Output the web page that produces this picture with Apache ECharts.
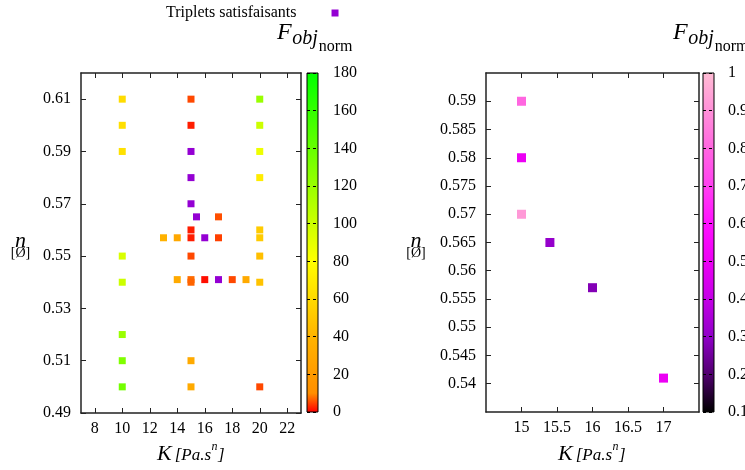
<!DOCTYPE html>
<html><head><meta charset="utf-8">
<script src="https://cdn.jsdelivr.net/npm/echarts@6/dist/echarts.min.js"></script>
<style>html,body{margin:0;padding:0;background:#fff}#c{width:745px;height:470px}</style>
</head><body><div id="c"></div>
<script>
// ---- data: left panel, all tested triplets (K, n, Fobj_norm) ----
const kLeft = [10, 15, 20, 10, 15, 20, 10, 20, 20, 17, 15, 20, 13, 14, 15, 17, 20, 10, 15, 20, 10, 14, 15, 15, 16, 18, 19, 20, 10, 10, 15, 10, 15, 20];
const nLeft = [0.61, 0.61, 0.61, 0.60, 0.60, 0.60, 0.59, 0.59, 0.58, 0.565, 0.56, 0.56, 0.557, 0.557, 0.557, 0.557, 0.557, 0.55, 0.55, 0.55, 0.54, 0.541, 0.541, 0.54, 0.541, 0.541, 0.541, 0.54, 0.52, 0.51, 0.51, 0.50, 0.50, 0.50];
const fLeft = [61, 5, 120, 63, 2, 100, 64, 87, 70, 5.5, 2, 52, 38, 30, 2, 4.5, 52, 95, 5, 46, 100, 32, 7.5, 7, 1, 5, 32, 48, 120, 130, 32, 135, 32, 5];
// ---- data: satisfying triplets (K, n, Fobj_norm) ----
const kSat = [15, 15, 15, 15.4, 16, 17];
const nSat = [0.59, 0.58, 0.57, 0.565, 0.557, 0.541];
const fSat = [0.8, 0.5, 0.92, 0.31, 0.28, 0.5];
// ---- tick labels ----
const leftXTicks = [8, 10, 12, 14, 16, 18, 20, 22];
const leftYTicks = [0.49, 0.51, 0.53, 0.55, 0.57, 0.59, 0.61];
const rightXTicks = [15, 15.5, 16, 16.5, 17];
const rightYTicks = [0.54, 0.545, 0.55, 0.555, 0.56, 0.565, 0.57, 0.575, 0.58, 0.585, 0.59];
const legendName = 'Triplets satisfaisants';

// ---- styles ----
const FONT = '"Liberation Serif", "Times New Roman", serif';
const palLeft = ['#ff0000','#ff8f00','#ff9b00','#ffa800','#ffb400','#ffc700','#ffda00','#ffec00','#ffff00','#e6ff00','#ccff00','#b3ff00','#99ff00','#80ff00','#66ff00','#4dff00','#33ff00','#1aff00','#00ff00'];
const palRight = ['#000000','#50006e','#9000c8','#c400e6','#ec00f4','#ff10ff','#ff40f0','#ff66e0','#ff90d8','#ffbcd4'];
const FRAME = '#222';

function grad(pal) {
  const n = pal.length;
  return {type:'linear', x:0, y:0, x2:0, y2:1,
    colorStops: pal.map((c, i) => ({offset: 1 - i / (n - 1), color: c})).reverse()};
}
function fmt(v) { return String(Math.round(v * 1000) / 1000); }

function vAxis(gridIndex, position, min, max, ticks, showLabel, margin) {
  return {
    type: 'value', gridIndex, position, min, max,
    axisLine: {show: true, onZero: false, lineStyle: {color: FRAME, width: 1.5}},
    axisTick: {show: true, inside: true, length: 5, customValues: ticks, lineStyle: {color: FRAME, width: 1}},
    axisLabel: {show: showLabel, customValues: ticks, margin, formatter: fmt,
      fontFamily: FONT, fontSize: 16, color: '#000'},
    splitLine: {show: false}
  };
}

const ctx = document.createElement('canvas').getContext('2d');
function tw(t, font) { ctx.font = font; return ctx.measureText(t).width; }
function txt(t, x, baseline, size, style, align) {
  const font = (style ? style + ' ' : '') + size + 'px ' + FONT;
  return {type:'text', x, y: baseline - 0.34 * size, silent: true,
    style: {text: t, font, fill:'#000', textAlign: align || 'left', textVerticalAlign: 'middle', align: align || 'left', verticalAlign: 'middle'}};
}
function kLabel(x0) {
  const els = [];
  let x = x0;
  els.push(txt('K', x, 462, 22, 'italic'));
  x += tw('K', 'italic 22px ' + FONT) + 3;
  els.push(txt('[Pa.s', x, 461, 17, 'italic'));
  x += tw('[Pa.s', 'italic 17px ' + FONT) + 0.5;
  els.push(txt('n', x, 451, 12, 'italic'));
  x += tw('n', 'italic 12px ' + FONT) + 0.5;
  els.push(txt(']', x, 461, 17, 'italic'));
  return els;
}
function nLabel(cx) {
  return [txt('n', cx, 249, 22, 'italic', 'center'), txt('[Ø]', cx, 258, 14, '', 'center')];
}
function fLabel(x0) {
  const els = [];
  let x = x0;
  els.push(txt('F', x, 41, 24, 'italic'));
  x += tw('F', 'italic 24px ' + FONT) + 0.5;
  els.push(txt('obj', x, 46, 20, 'italic'));
  x += tw('obj', 'italic 20px ' + FONT) + 1;
  els.push(txt('norm', x, 52, 16, ''));
  return els;
}

const chart = echarts.init(document.getElementById('c'), null, {renderer: 'canvas'});
const option = {
  animation: false,
  backgroundColor: '#fff',
  grid: [
    {left: 81, top: 73, width: 220, height: 340, outerBoundsMode: 'none', containLabel: false},
    {left: 486, top: 73, width: 213, height: 339, outerBoundsMode: 'none', containLabel: false},
    {left: 307, top: 73, width: 11, height: 339, show: true, borderColor: '#000', borderWidth: 1, backgroundColor: 'transparent', z: 5, outerBoundsMode: 'none'},
    {left: 703, top: 73, width: 11, height: 339, show: true, borderColor: '#000', borderWidth: 1, backgroundColor: 'transparent', z: 5, outerBoundsMode: 'none'}
  ],
  xAxis: [
    vAxis(0, 'bottom', 7, 23, leftXTicks, true, 8),
    vAxis(0, 'top', 7, 23, leftXTicks, false, 8),
    vAxis(1, 'bottom', 14.5, 17.5, rightXTicks, true, 8),
    vAxis(1, 'top', 14.5, 17.5, rightXTicks, false, 8),
    {type: 'category', gridIndex: 2, data: ['cb'], show: false, boundaryGap: true},
    {type: 'category', gridIndex: 3, data: ['cb'], show: false, boundaryGap: true}
  ],
  yAxis: [
    vAxis(0, 'left', 0.49, 0.62, leftYTicks, true, 10),
    vAxis(0, 'right', 0.49, 0.62, leftYTicks, false, 10),
    vAxis(1, 'left', 0.535, 0.595, rightYTicks, true, 10),
    vAxis(1, 'right', 0.535, 0.595, rightYTicks, false, 10),
    {type: 'value', gridIndex: 2, position: 'right', min: 0, max: 180, interval: 20, z: 4,
      axisLine: {show: false}, axisTick: {show: false},
      splitLine: {show: true, lineStyle: {color: '#000', width: 1, type: [3, 3]}},
      axisLabel: {margin: 15, fontFamily: FONT, fontSize: 16, color: '#000', showMinLabel: true, showMaxLabel: true}},
    {type: 'value', gridIndex: 3, position: 'right', min: 0.1, max: 1, interval: 0.1, z: 4,
      axisLine: {show: false}, axisTick: {show: false},
      splitLine: {show: true, lineStyle: {color: '#000', width: 1, type: [3, 3]}},
      axisLabel: {margin: 14, fontFamily: FONT, fontSize: 16, color: '#000', formatter: fmt, showMinLabel: true, showMaxLabel: true}}
  ],
  visualMap: [
    {type: 'continuous', show: false, seriesIndex: 0, dimension: 2, min: 0, max: 180, inRange: {color: palLeft}},
    {type: 'continuous', show: false, seriesIndex: 2, dimension: 2, min: 0.1, max: 1, inRange: {color: palRight}}
  ],
  legend: {
    data: [legendName], left: 166, top: 5, padding: 0, align: 'right',
    icon: 'rect', itemWidth: 7, itemHeight: 7,
    itemStyle: {opacity: 1},
    textStyle: {fontFamily: FONT, fontSize: 16, color: '#000', padding: [0, 30, 0, 0]}
  },
  series: [
    {type: 'scatter', name: 'tested', xAxisIndex: 0, yAxisIndex: 0, symbol: 'rect', symbolSize: 7,
      itemStyle: {opacity: 1}, data: kLeft.map((k, i) => [k, nLeft[i], fLeft[i]])},
    {type: 'scatter', name: legendName, xAxisIndex: 0, yAxisIndex: 0, symbol: 'rect', symbolSize: 7, z: 3,
      itemStyle: {color: '#9400d3', opacity: 1}, data: kSat.map((k, i) => [k, nSat[i]])},
    {type: 'scatter', name: 'sat', xAxisIndex: 2, yAxisIndex: 2, symbol: 'rect', symbolSize: 9,
      itemStyle: {opacity: 1}, data: kSat.map((k, i) => [k, nSat[i], fSat[i]])},
    {type: 'bar', xAxisIndex: 4, yAxisIndex: 4, barWidth: '100%', silent: true,
      itemStyle: {color: grad(palLeft)}, data: [180]},
    {type: 'bar', xAxisIndex: 5, yAxisIndex: 5, barWidth: '100%', silent: true,
      itemStyle: {color: grad(palRight)}, data: [1]}
  ],
  graphic: [].concat(kLabel(157), kLabel(558), nLabel(20.5), nLabel(416), fLabel(277), fLabel(673))
};
chart.setOption(option);
</script>
</body></html>
